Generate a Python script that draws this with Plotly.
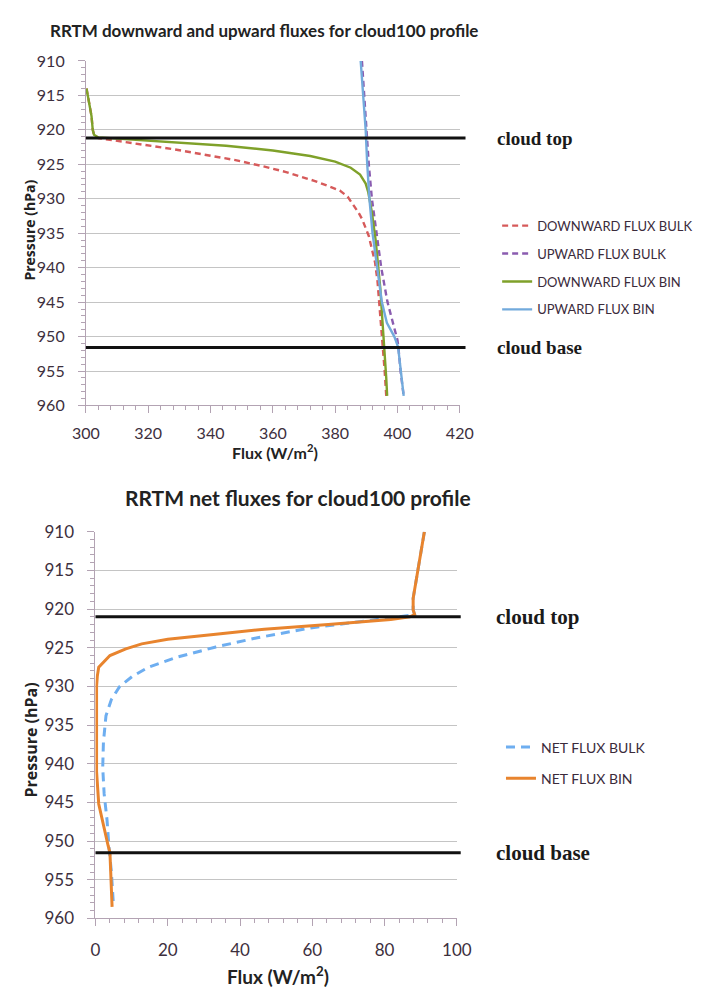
import plotly.graph_objects as go

W, H = 701, 994

# ---------------- data: top chart ----------------
p_dn_bulk = [914, 916, 918, 920, 920.7, 921.2, 921.6, 922.1, 922.8, 923.6, 924.4, 925.3, 926.1, 926.8,
             927.4, 928.2, 928.8, 929.7, 930.7, 932, 933, 935.4, 937.5, 939.2, 942, 946.3, 949, 952, 955, 958.6]
f_dn_bulk = [300.2, 301.0, 301.8, 302.2, 302.6, 304, 310, 318, 328, 338, 348, 357, 364, 369,
             373.3, 378, 381.5, 384, 385.6, 387.5, 388.7, 390.8, 391.9, 392.8, 393.6, 394.4, 394.9, 395.4, 395.9, 396.4]

p_up_bulk = [910, 915, 920, 925, 930, 935, 940, 945, 949, 950.5, 951.5, 955, 958.6]
f_up_bulk = [388.6, 389.3, 390.1, 390.8, 391.8, 393.2, 394.8, 396.8, 399.2, 400.0, 400.3, 401.0, 402.0]

p_dn_bin = [914, 916, 918, 920, 920.7, 921.1, 921.4, 921.8, 922.3, 923.0, 923.8, 924.6, 925.5, 926.5,
            927.8, 929, 932, 936, 939.5, 943, 946.5, 950, 953, 956, 958.6]
f_dn_bin = [300.2, 301.0, 301.8, 302.2, 302.6, 304, 315, 330, 345, 360, 372, 380, 385, 388,
            389.8, 390.6, 391.8, 393.0, 393.8, 394.5, 395.0, 395.6, 396.0, 396.4, 396.7]

p_up_bin = [910, 915, 920, 925, 930, 935, 940, 945, 948, 950, 951.5, 955, 958.6]
f_up_bin = [388.2, 389.0, 389.8, 390.3, 391.0, 392.0, 393.5, 395.0, 396.6, 399.0, 400.2, 401.0, 402.0]

cloud_levels_top = [921.2, 951.6]

# ---------------- data: bottom chart ----------------
p_net_bulk = [910, 913.5, 916, 918.6, 920.1, 920.7, 921.0, 921.6, 922.4, 923.7, 924.9, 926.2, 927.5, 928.7,
              930.0, 931.7, 933.8, 937.2, 940.5, 943.9, 947.3, 950.6, 954.0, 958.5]
f_net_bulk = [91.0, 89.7, 88.8, 87.9, 87.9, 88.3, 84.0, 73.3, 60.0, 44.8, 33.3, 22.7, 14.7, 10.2,
              6.7, 4.4, 2.9, 2.2, 2.0, 2.4, 3.2, 3.7, 4.4, 5.0]

p_net_bin = [910, 913.5, 916, 918.6, 920.1, 920.7, 921.0, 921.35, 922.0, 922.6, 923.25, 923.9, 924.5, 925.15,
             926.0, 927.5, 928.7, 930, 935, 941, 945.2, 948.1, 950.6, 951.5, 954.9, 958.5]
f_net_bin = [91.0, 89.7, 88.8, 87.9, 87.9, 88.3, 87.0, 81.7, 64.4, 46.7, 33.3, 20.0, 12.8, 8.4,
             4.0, 0.9, 0.5, 0.3, 0.3, 0.3, 0.9, 2.2, 3.5, 4.0, 4.2, 4.6]

cloud_levels_bot = [921.0, 951.5]
cloud_names = ["cloud top", "cloud base"]

# ---------------- helpers ----------------
def px(x):
    return x / W

def py(y):
    return 1 - y / H

TICK_COL = "#3d2f3d"
AXIS_COL = "#b3a3b3"
GRID_COL = "#c4c4c4"

fig = go.Figure()

top_series = [
    ("DOWNWARD FLUX BULK", f_dn_bulk, p_dn_bulk, "#d65a5a", "6px,4px", 2.4),
    ("UPWARD FLUX BULK", f_up_bulk, p_up_bulk, "#8a5cb0", "6px,4px", 2.4),
    ("DOWNWARD FLUX BIN", f_dn_bin, p_dn_bin, "#7fa12a", "solid", 2.4),
    ("UPWARD FLUX BIN", f_up_bin, p_up_bin, "#72aadc", "solid", 2.4),
]
for i, (name, fx, pp, col, dash, w) in enumerate(top_series):
    fig.add_trace(go.Scatter(x=fx, y=pp, mode="lines", name=name, legend="legend",
                             legendgroup="t%d" % i,
                             line=dict(color=col, dash=dash, width=w),
                             xaxis="x", yaxis="y"))

bot_series = [
    ("NET FLUX BULK", f_net_bulk, p_net_bulk, "#6eaef0", "9px,6px", 3),
    ("NET FLUX BIN", f_net_bin, p_net_bin, "#e8842e", "solid", 3),
]
for i, (name, fx, pp, col, dash, w) in enumerate(bot_series):
    fig.add_trace(go.Scatter(x=fx, y=pp, mode="lines", name=name, legend="legend2",
                             legendgroup="b%d" % i,
                             line=dict(color=col, dash=dash, width=w),
                             xaxis="x2", yaxis="y2"))

shapes = []
annotations = []

# cloud lines + labels
top_dom_x = [px(75), px(465)]
bot_dom_x = [px(85), px(462)]
for lvl, nm in zip(cloud_levels_top, cloud_names):
    shapes.append(dict(type="line", xref="paper", yref="y", x0=top_dom_x[0], x1=px(471),
                       y0=lvl, y1=lvl, line=dict(color="#111111", width=3)))
    annotations.append(dict(text="<b>%s</b>" % nm, xref="paper", yref="y", x=px(502), y=lvl,
                            xanchor="left", yanchor="middle", showarrow=False,
                            font=dict(family="Liberation Serif", size=19, color="#1a1a1a")))
for lvl, nm in zip(cloud_levels_bot, cloud_names):
    shapes.append(dict(type="line", xref="paper", yref="y2", x0=bot_dom_x[0], x1=px(466),
                       y0=lvl, y1=lvl, line=dict(color="#111111", width=3)))
    annotations.append(dict(text="<b>%s</b>" % nm, xref="paper", yref="y2", x=px(501), y=lvl,
                            xanchor="left", yanchor="middle", showarrow=False,
                            font=dict(family="Liberation Serif", size=21, color="#1a1a1a")))

# titles
annotations.append(dict(text="<b>RRTM downward and upward fluxes for cloud100 profile</b>",
                        xref="paper", yref="paper", x=px(261), y=py(20), xanchor="center",
                        yanchor="middle", showarrow=False,
                        font=dict(family="Lato", size=17, color="#222222")))
annotations.append(dict(text="<b>RRTM net fluxes for cloud100 profile</b>",
                        xref="paper", yref="paper", x=px(296), y=py(497), xanchor="center",
                        yanchor="middle", showarrow=False,
                        font=dict(family="Lato", size=21, color="#222222")))
# axis titles
for (x, y, t, s, ang, fam) in [
    (16, 224, "Pressure (hPa)", 14, -90, "Open Sans"),
    (18, 745, "Pressure (hPa)", 16, -90, "Open Sans"),
    (272, 450, "Flux (W/m<sup>2</sup>)", 16, 0, "Lato"),
    (275, 985, "Flux (W/m<sup>2</sup>)", 19, 0, "Lato"),
]:
    annotations.append(dict(text="<b>%s</b>" % t, xref="paper", yref="paper", x=px(x), y=py(y),
                            xanchor="center", yanchor="middle", showarrow=False, textangle=ang,
                            font=dict(family=fam, size=s, color="#222222")))

def xax(dom, rng, dtick, minor, anchor, size, standoff):
    return dict(domain=dom, range=rng, dtick=dtick, tick0=rng[0], anchor=anchor,
                showgrid=False, zeroline=False, showline=True, linecolor=AXIS_COL, linewidth=1,
                ticks="outside", ticklen=7, tickcolor=AXIS_COL, ticklabelstandoff=standoff,
                tickfont=dict(family="Lato", size=size, color=TICK_COL),
                minor=dict(dtick=minor, ticks="outside", ticklen=4, tickcolor=AXIS_COL, showgrid=False))

def yax(dom, anchor, size):
    return dict(domain=dom, range=[960, 910], dtick=5, tick0=910, anchor=anchor,
                showgrid=True, gridcolor=GRID_COL, gridwidth=1, zeroline=False,
                showline=True, linecolor=AXIS_COL, linewidth=1,
                ticks="outside", ticklen=7, tickcolor=AXIS_COL, ticklabelstandoff=10,
                tickfont=dict(family="Lato", size=size, color=TICK_COL),
                minor=dict(dtick=1, ticks="outside", ticklen=4, tickcolor=AXIS_COL, showgrid=False))

fig.update_layout(
    width=W, height=H, autosize=False,
    margin=dict(l=0, r=0, t=0, b=0),
    paper_bgcolor="white", plot_bgcolor="white",
    xaxis=xax(top_dom_x, [300, 420], 20, 4, "y", 16, 6),
    yaxis=yax([py(403), py(51)], "x", 16),
    xaxis2=xax(bot_dom_x, [0, 100], 20, 4, "y2", 17, 9),
    yaxis2=yax([py(927), py(532)], "x2", 17),
    legend=dict(x=px(504), y=py(204), xanchor="left", yanchor="top", tracegroupgap=8,
                bgcolor="rgba(0,0,0,0)", font=dict(family="Lato", size=13, color="#3b2b3b"),
                itemwidth=30),
    legend2=dict(x=px(508), y=py(736), xanchor="left", yanchor="top", tracegroupgap=10,
                 bgcolor="rgba(0,0,0,0)", font=dict(family="Lato", size=14, color="#3b2b3b"),
                 itemwidth=30),
    shapes=shapes,
    annotations=annotations,
)

fig.write_html("out.html")
